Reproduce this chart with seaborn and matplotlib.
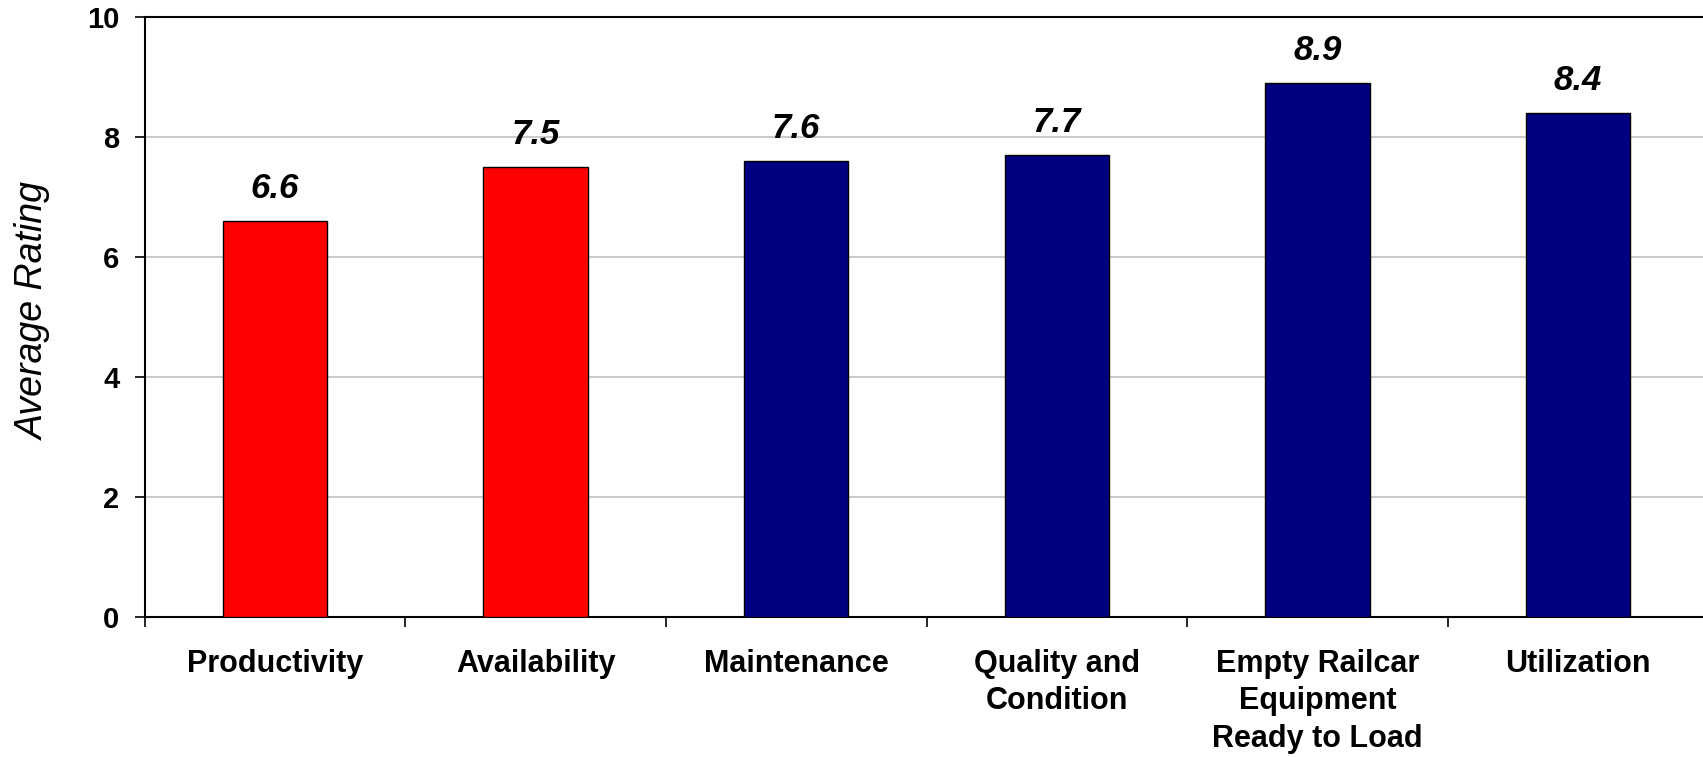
import matplotlib
matplotlib.use("Agg")
import matplotlib.pyplot as plt
import seaborn as sns
import pandas as pd
from matplotlib.ticker import FixedLocator

# Survey ratings by category
categories = [
    "Productivity",
    "Availability",
    "Maintenance",
    "Quality and\nCondition",
    "Empty Railcar\nEquipment\nReady to Load",
    "Utilization",
]
ratings = [6.6, 7.5, 7.6, 7.7, 8.9, 8.4]
bar_colors = ["#FF0000", "#FF0000", "#000080", "#000080", "#000080", "#000080"]
y_ticks = [0, 2, 4, 6, 8, 10]

sns.set_theme(style="white")
plt.rcParams["font.family"] = ["Liberation Sans", "DejaVu Sans"]
plt.rcParams["text.color"] = "black"
plt.rcParams["axes.labelcolor"] = "black"
plt.rcParams["xtick.color"] = "black"
plt.rcParams["ytick.color"] = "black"

df = pd.DataFrame({"category": categories, "rating": ratings})

W, H = 1703, 757
fig = plt.figure(figsize=(W / 100, H / 100), dpi=100)
ax = fig.add_axes([144.5 / W, 140 / H, 1564 / W, 600 / H])

sns.barplot(
    data=df, x="category", y="rating", hue="category",
    palette=bar_colors, saturation=1, width=0.4, edgecolor="black", linewidth=1.0,
    legend=False, ax=ax, zorder=3,
)

ax.set_xlim(-0.5, len(categories) - 0.5)
ax.set_ylim(0, 10)
ax.set_yticks(y_ticks)
ax.yaxis.grid(True, color="#c0c0c0", linewidth=1.2, zorder=0)
ax.set_axisbelow(True)

for side in ["left", "bottom", "top"]:
    ax.spines[side].set_visible(True)
    ax.spines[side].set_color("black")
    ax.spines[side].set_linewidth(1.5)
ax.spines["right"].set_visible(False)

# category labels centred on bars, tick marks between categories
ax.tick_params(axis="x", which="major", length=0, pad=23, labelsize=22)
ax.xaxis.set_minor_locator(FixedLocator([i - 0.5 for i in range(len(categories) + 1)]))
ax.tick_params(axis="x", which="minor", bottom=True, length=7, width=1.2, color="black", direction="out")
for lbl in ax.get_xticklabels():
    lbl.set_fontweight("bold")
    lbl.set_linespacing(1.32)
    lbl.set_multialignment("center")

ax.tick_params(axis="y", which="major", left=True, length=7, width=1.2, color="black",
               direction="out", pad=11, labelsize=21)
for lbl in ax.get_yticklabels():
    lbl.set_fontweight("bold")

ax.set_xlabel("")
ax.set_ylabel("Average Rating", fontsize=27, fontstyle="italic")
ax.yaxis.set_label_coords(-0.059, 0.51)

for i, v in enumerate(ratings):
    ax.annotate(f"{v:.1f}", xy=(i, v), xytext=(0, 16.5), textcoords="offset points",
                ha="center", va="baseline", fontsize=25, fontweight="bold",
                fontstyle="italic", zorder=5)

fig.savefig("out.png", dpi=100)
